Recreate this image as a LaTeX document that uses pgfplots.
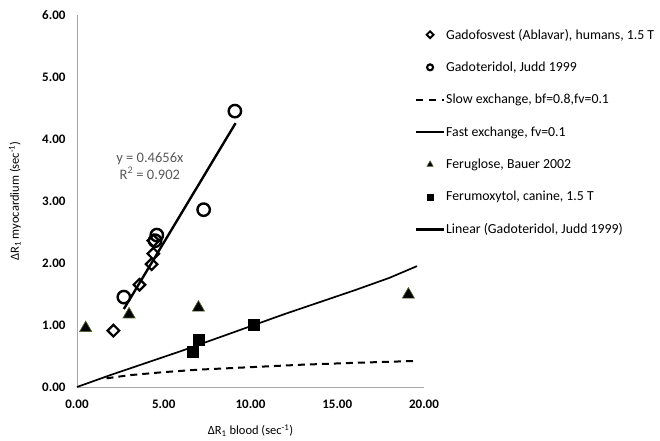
\documentclass[border=0pt]{standalone}
\usepackage{pgfplots}
\pgfplotsset{compat=1.18}
\usepackage{fontspec}
\setmainfont{Carlito}
\definecolor{axgray}{HTML}{A6A6A6}
\definecolor{txtgray}{HTML}{595959}
\definecolor{olivedge}{HTML}{4F6228}
\begin{document}
\begin{tikzpicture}[x=1pt,y=1pt]
\useasboundingbox (0,0) rectangle (660,440);
\begin{axis}[
  at={(77pt,53pt)}, anchor=south west,
  scale only axis, width=347pt, height=372pt,
  xmin=0, xmax=20, ymin=0, ymax=6,
  axis x line=bottom, axis y line=left,
  axis line style={axgray, line width=0.8pt, -},
  xtick={0,5,10,15,20}, ytick={0,1,2,3,4,5,6},
  xticklabels={0.00,5.00,10.00,15.00,20.00},
  yticklabels={0.00,1.00,2.00,3.00,4.00,5.00,6.00},
  major tick length=0pt,
  tick label style={font=\bfseries\fontsize{13}{15}\selectfont},
  xticklabel style={yshift=-9pt},
  yticklabel style={xshift=-8pt},
  xlabel={ΔR\textsubscript{1} blood (sec\textsuperscript{-1})},
  ylabel={ΔR\textsubscript{1} myocardium (sec\textsuperscript{-1})},
  label style={font=\fontsize{12.5}{14}\selectfont},
  xlabel style={at={(axis description cs:0.5,-0.118)}, anchor=center},
  ylabel style={at={(axis description cs:-0.179,0.5)}, anchor=center},
  clip=false,
  legend style={at={(axis description cs:0.974,0.968)}, anchor=north west,
    draw=none, fill=none, font=\fontsize{13.8}{15}\selectfont,
    row sep=17.3pt, inner sep=0pt, outer sep=0pt,
    nodes={inner xsep=1pt},
    /tikz/every even column/.append style={column sep=0pt}},
  legend cell align=left,
]
% Gadofosvest
\addplot[only marks, line width=2.2pt, mark=square, mark size=4.1pt,
  mark options={rotate=45, draw=black, fill=white},
  legend image code/.code={\draw[line width=1.9pt, mark=square, mark size=2.4pt, mark options={rotate=45, draw=black, fill=white}] plot coordinates {(14pt,0pt)};}]
  coordinates {(2.1,0.91) (3.6,1.65) (4.3,1.98) (4.4,2.15) (4.4,2.36)};
\addlegendentry{Gadofosvest (Ablavar), humans, 1.5 T}
% Gadoteridol
\addplot[only marks, line width=2.4pt, mark=o, mark size=6.2pt,
  mark options={draw=black},
  legend image code/.code={\draw[line width=2.1pt, mark=o, mark size=3pt, mark options={draw=black}] plot coordinates {(14pt,0pt)};}]
  coordinates {(2.7,1.45) (4.5,2.36) (4.6,2.45) (7.3,2.86) (9.1,4.45)};
\addlegendentry{Gadoteridol, Judd 1999}
% Slow exchange
\addplot[black, line width=2pt, dash pattern=on 7pt off 5pt,
  legend image code/.code={\draw[black, line width=2pt, dash pattern=on 7pt off 6pt] (0pt,0pt) -- (28pt,0pt);}]
  coordinates {(1.7,0.14) (3,0.19) (5,0.24) (7,0.28) (10,0.32) (13,0.36) (16,0.39) (19.5,0.42)};
\addlegendentry{Slow exchange, bf=0.8,fv=0.1}
% Fast exchange
\addplot[black, line width=1.7pt,
  legend image code/.code={\draw[black, line width=1.8pt] (0pt,0pt) -- (28pt,0pt);}]
  coordinates {(0,0) (2,0.2) (4,0.39) (6,0.58) (8,0.78) (10,0.98) (12,1.18) (14,1.37) (16,1.56) (18,1.76) (19.6,1.95)};
\addlegendentry{Fast exchange, fv=0.1}
% Feruglose
\addplot[only marks, line width=0.7pt, mark=triangle*, mark size=7pt,
  mark options={draw=olivedge, fill=black},
  legend image code/.code={\draw[line width=0.5pt, mark=triangle*, mark size=3.6pt, mark options={draw=olivedge, fill=black}] plot coordinates {(14pt,0pt)};}]
  coordinates {(0.5,0.95) (3.0,1.17) (7.0,1.28) (19.1,1.49)};
\addlegendentry{Feruglose, Bauer 2002}
% Ferumoxytol
\addplot[only marks, mark=square*, mark size=5.4pt,
  mark options={draw=black, fill=black},
  legend image code/.code={\draw[mark=square*, mark size=3pt, mark options={draw=black, fill=black}] plot coordinates {(14pt,0pt)};}]
  coordinates {(6.65,0.57) (7.0,0.76) (10.2,1.0)};
\addlegendentry{Ferumoxytol, canine, 1.5 T}
% Linear trend
\addplot[black, line width=2.4pt,
  legend image code/.code={\draw[black, line width=2.2pt] (0pt,0pt) -- (28pt,0pt);}]
  coordinates {(2.7,1.257) (9.14,4.256)};
\addlegendentry{Linear (Gadoteridol, Judd 1999)}
\node[align=center, text=txtgray, font=\fontsize{14.5}{17}\selectfont] at (axis cs:4.2,3.57) {y = 0.4656x\\R\textsuperscript{2} = 0.902};
\end{axis}
\end{tikzpicture}
\end{document}
